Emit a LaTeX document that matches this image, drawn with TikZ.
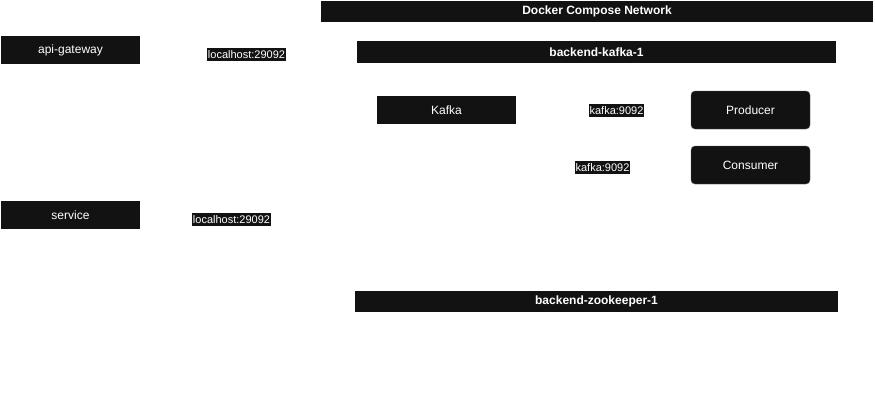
\documentclass[tikz,border=0pt]{standalone}
\usepackage{fontspec}
\setmainfont{Liberation Sans}
\definecolor{boxfill}{HTML}{121212}
\tikzset{
  bar/.style={fill=boxfill, text=white, font=\fontsize{12}{14}\selectfont\bfseries, inner sep=0pt, minimum height=21pt},
  svc/.style={fill=boxfill, text=white, font=\fontsize{12}{14}\selectfont, inner sep=0pt, minimum width=139pt, minimum height=28pt},
  role/.style={fill=boxfill, draw=boxfill!70!white, line width=0.4pt, rounded corners=4pt, text=white, font=\fontsize{12}{14}\selectfont, inner sep=0pt, minimum width=119pt, minimum height=38pt},
  lbl/.style={fill=boxfill, text=white, font=\fontsize{11}{13}\selectfont, inner xsep=0.5pt, inner ysep=0pt, minimum height=13pt}
}
\begin{document}
\begin{tikzpicture}[x=1pt,y=-1pt]
\useasboundingbox (0,0) rectangle (875,402);
\fill[white] (0,0) rectangle (875,402);
\node[bar, minimum width=552pt] (dcn) at (597,11.5) {Docker Compose Network};
\node[bar, minimum width=479pt, minimum height=22pt] (bk1) at (596.5,52) {backend-kafka-1};
\node[svc] (kafka) at (446.5,110) {Kafka};
\node[lbl] (kl1) at (616.5,110.5) {kafka:9092};
\node[role] (producer) at (750.5,110) {Producer};
\node[role] (consumer) at (750.5,165) {Consumer};
\node[lbl] (kl2) at (602.5,167.5) {kafka:9092};
\node[svc] (api) at (70.5,50) {api-gateway};
\node[lbl] (ll1) at (246.5,54.5) {localhost:29092};
\node[svc] (service) at (70.5,215) {service};
\node[lbl] (ll2) at (231.5,219.5) {localhost:29092};
\node[bar, minimum width=483pt] (zk) at (596.5,301.5) {backend-zookeeper-1};
\end{tikzpicture}
\end{document}
